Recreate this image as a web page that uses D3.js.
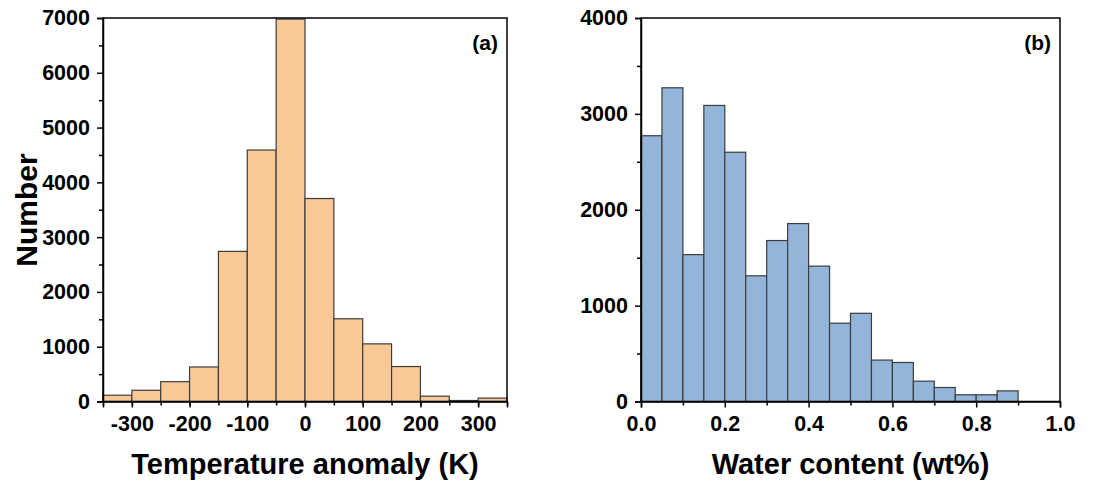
<!DOCTYPE html>
<html>
<head>
<meta charset="utf-8">
<script src="https://cdn.jsdelivr.net/npm/d3@7"></script>
<style>
  body { margin: 0; background: #fff; }
  text { font-family: "Liberation Sans", Arial, sans-serif; font-weight: bold; fill: #000; }
</style>
</head>
<body>
<script>
const width = 1118;
const height = 490;

// (a) temperature anomaly histogram, bins of 50 K
const tempBins = [-350, -300, -250, -200, -150, -100, -50, 0, 50, 100, 150, 200, 250, 300];
const tempCounts = [115, 205, 362, 630, 2740, 4590, 6980, 3705, 1510, 1052, 638, 97, 18, 62];
const tempTicks = [-300, -200, -100, 0, 100, 200, 300];
const tempYTicks = [0, 1000, 2000, 3000, 4000, 5000, 6000, 7000];

// (b) water content histogram, bins of 0.05 wt%
const waterBins = [0, 0.05, 0.1, 0.15, 0.2, 0.25, 0.3, 0.35, 0.4, 0.45, 0.5, 0.55, 0.6, 0.65, 0.7, 0.75, 0.8, 0.85];
const waterCounts = [2772, 3272, 1532, 3088, 2600, 1311, 1679, 1856, 1412, 817, 920, 432, 407, 212, 146, 70, 70, 111];
const waterTicks = [0, 0.2, 0.4, 0.6, 0.8, 1.0];
const waterYTicks = [0, 1000, 2000, 3000, 4000];

const svg = d3.select("body")
  .append("svg")
  .attr("width", width)
  .attr("height", height);

function panel(opts) {
  const x = d3.scaleLinear().domain(opts.xDomain).range([opts.left, opts.right]);
  const y = d3.scaleLinear().domain(opts.yDomain).range([opts.bottom, opts.top]);
  const g = svg.append("g");

  g.append("g")
    .selectAll("rect")
    .data(opts.bins.map((b, i) => ({x0: b, x1: b + opts.binWidth, v: opts.counts[i]})))
    .join("rect")
    .attr("x", d => x(d.x0))
    .attr("y", d => y(d.v))
    .attr("width", d => x(d.x1) - x(d.x0))
    .attr("height", d => y(0) - y(d.v))
    .attr("fill", opts.color)
    .attr("stroke", "#3c3c3c")
    .attr("stroke-width", 1.2);

  // frame
  g.append("rect")
    .attr("x", opts.left).attr("y", opts.top)
    .attr("width", opts.right - opts.left).attr("height", opts.bottom - opts.top)
    .attr("fill", "none").attr("stroke", "#000").attr("stroke-width", 1.5);

  // minor ticks
  g.append("g")
    .attr("transform", `translate(0,${opts.bottom})`)
    .call(d3.axisBottom(x).tickValues(opts.xMinor).tickSize(4).tickFormat(""))
    .call(a => a.select(".domain").remove());
  g.append("g")
    .attr("transform", `translate(${opts.left},0)`)
    .call(d3.axisLeft(y).tickValues(opts.yMinor).tickSize(4).tickFormat(""))
    .call(a => a.select(".domain").remove());

  // major ticks
  const xa = g.append("g")
    .attr("transform", `translate(0,${opts.bottom})`)
    .call(d3.axisBottom(x).tickValues(opts.xTicks).tickSize(6).tickPadding(8).tickFormat(opts.xFormat));
  const ya = g.append("g")
    .attr("transform", `translate(${opts.left},0)`)
    .call(d3.axisLeft(y).tickValues(opts.yTicks).tickSize(6).tickPadding(7).tickFormat(d => String(d)));
  [xa, ya].forEach(a => {
    a.select(".domain").attr("stroke-width", 1.5);
    a.selectAll("text").attr("font-size", 21.5);
  });
  g.selectAll(".tick line").attr("stroke-width", 1.5);

  g.append("text")
    .attr("x", (opts.left + opts.right) / 2)
    .attr("y", 474)
    .attr("text-anchor", "middle")
    .attr("font-size", 29)
    .text(opts.xLabel);

  g.append("text")
    .attr("x", opts.right - 9)
    .attr("y", 50)
    .attr("text-anchor", "end")
    .attr("font-size", 21)
    .text(opts.tag);
  return g;
}

panel({
  left: 103, right: 507, top: 18, bottom: 401.5,
  xDomain: [-350, 350], yDomain: [0, 7000],
  bins: tempBins, counts: tempCounts, binWidth: 50,
  color: "#f9c897",
  xTicks: tempTicks, xMinor: d3.range(-350, 351, 50),
  yTicks: tempYTicks, yMinor: d3.range(500, 7000, 1000),
  xFormat: d => String(d),
  xLabel: "Temperature anomaly (K)", tag: "(a)"
});

panel({
  left: 641, right: 1060, top: 18, bottom: 401.5,
  xDomain: [0, 1], yDomain: [0, 4000],
  bins: waterBins, counts: waterCounts, binWidth: 0.05,
  color: "#93b5da",
  xTicks: waterTicks, xMinor: d3.range(0.1, 1, 0.2),
  yTicks: waterYTicks, yMinor: d3.range(500, 4000, 1000),
  xFormat: d3.format(".1f"),
  xLabel: "Water content (wt%)", tag: "(b)"
});

svg.append("text")
  .attr("transform", "translate(37,210) rotate(-90)")
  .attr("text-anchor", "middle")
  .attr("font-size", 30)
  .text("Number");
</script>
</body>
</html>
